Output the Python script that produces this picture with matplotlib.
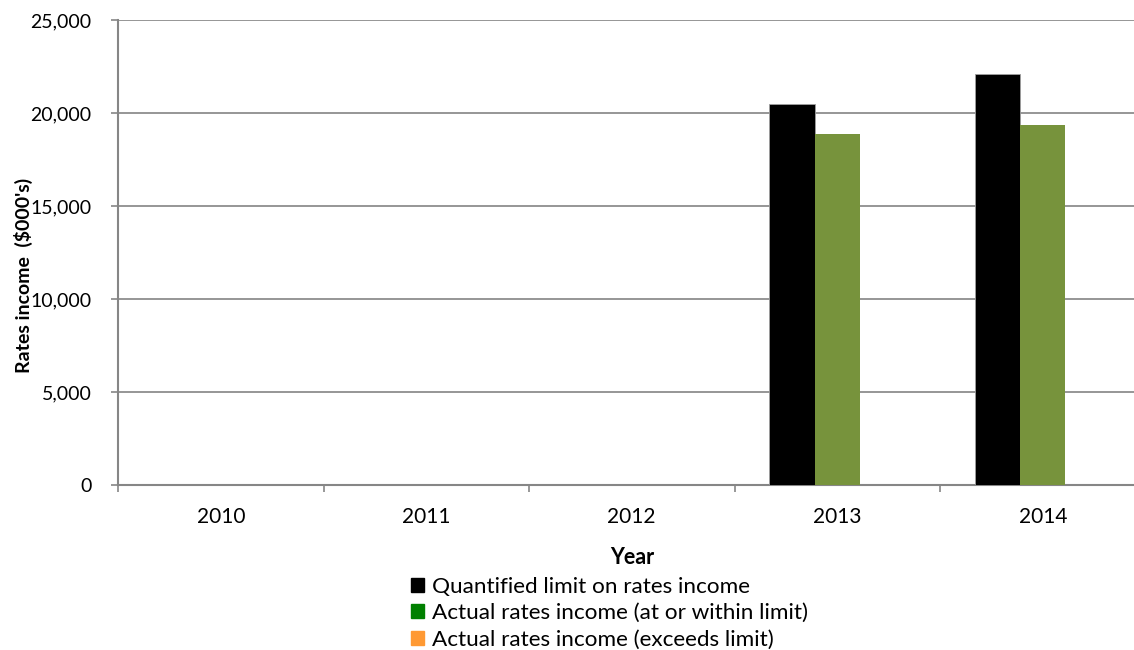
import numpy as np
import matplotlib.pyplot as plt
from matplotlib.patches import Patch

plt.rcParams['font.family'] = ['Lato', 'DejaVu Sans']

years = ['2010', '2011', '2012', '2013', '2014']
limit = [0, 0, 0, 20500, 22100]
within = [0, 0, 0, 18860, 19340]
exceeds = [0, 0, 0, 0, 0]
yticks = [0, 5000, 10000, 15000, 20000, 25000]

labels = ['Quantified limit on rates income',
          'Actual rates income (at or within limit)',
          'Actual rates income (exceeds limit)']

fig = plt.figure(figsize=(11.34, 6.5), dpi=100)
ax = fig.add_axes([118 / 1134, 1 - 485 / 650, 1027.5 / 1134, 465 / 650])

x = np.arange(len(years))
w = 0.2214
ax.bar(x - w, limit, w, color='black', edgecolor='#a0a0a0', linewidth=0.6, zorder=3)
ax.bar(x, within, w, color='#77933C', zorder=3)
ax.bar(x + w, exceeds, w, color='#FF9933', zorder=3)

ax.set_xlim(-0.5, len(years) - 0.5)
ax.set_ylim(0, 25000)
ax.set_yticks(yticks)
ax.set_yticklabels([f'{v:,}' for v in yticks], fontsize=14)
ax.grid(axis='y', color='#8e8e8e', linewidth=1.3, zorder=0)

# category boundaries get tick marks, labels sit at centres
ax.set_xticks(np.arange(-0.5, len(years), 1))
ax.set_xticklabels([])
ax.set_xticks(x, minor=True)
ax.set_xticklabels(years, minor=True, fontsize=15)
ax.tick_params(axis='x', which='major', length=5, color='#868686', width=1.2)
ax.tick_params(axis='x', which='minor', length=0, pad=16)
ax.tick_params(axis='y', length=5, color='#868686', width=1.2, pad=14)

for s in ['top', 'right']:
    ax.spines[s].set_visible(False)
for s in ['left', 'bottom']:
    ax.spines[s].set_color('#868686')
    ax.spines[s].set_linewidth(1.5)

ax.set_xlabel('Year', fontsize=15.5, fontweight='bold', labelpad=14)
ax.set_ylabel("Rates income  ($000's)", fontsize=14, fontweight='bold')
ax.yaxis.set_label_coords(-0.083, 0.45)

handles = [Patch(color='black'), Patch(color='#008000'), Patch(color='#FF9933')]
fig.legend(handles, labels, loc='upper left', bbox_to_anchor=(402 / 1134, 1 - 568 / 650),
           frameon=False, fontsize=16.2, handlelength=0.58, handleheight=0.58,
           handletextpad=0.35, labelspacing=0.28, borderaxespad=0)

fig.savefig('out.png', dpi=100)
